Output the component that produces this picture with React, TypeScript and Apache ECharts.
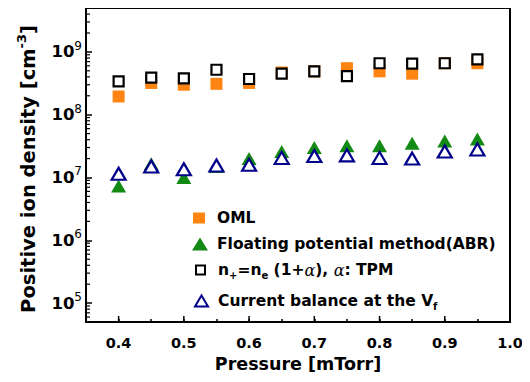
import React, { useEffect, useRef } from 'react';
import * as echarts from 'echarts';

const pressure = [0.4, 0.45, 0.5, 0.55, 0.6, 0.65, 0.7, 0.75, 0.8, 0.85, 0.9, 0.95];
const oml = [1.95e8, 3.2e8, 3.0e8, 3.1e8, 3.2e8, 4.7e8, 4.9e8, 5.5e8, 4.9e8, 4.5e8, 6.6e8, 6.6e8];
const floating = [7.3e6, 1.65e7, 1.0e7, 1.5e7, 2.0e7, 2.6e7, 3.0e7, 3.2e7, 3.2e7, 3.5e7, 3.8e7, 4.1e7];
const tpm = [3.4e8, 3.9e8, 3.8e8, 5.2e8, 3.7e8, 4.5e8, 4.9e8, 4.1e8, 6.6e8, 6.5e8, 6.6e8, 7.6e8];
const currentBalance = [1.15e7, 1.5e7, 1.35e7, 1.55e7, 1.6e7, 2.05e7, 2.2e7, 2.25e7, 2.05e7, 2.0e7, 2.6e7, 2.8e7];

const xMajorTicks = [0.4, 0.5, 0.6, 0.7, 0.8, 0.9, 1.0];
const yMantissas = [2, 3, 4, 5, 6, 7, 8, 9];
const yDecades = [4, 5, 6, 7, 8, 9];

const X_MIN = 0.35;
const X_MAX = 1.0;
const Y_MIN = 5e4;
const Y_MAX = 5e9;

const NAME_OML = 'OML';
const NAME_FLOAT = 'Floating potential method(ABR)';
const NAME_TPM = 'n+=ne (1+α), α: TPM';
const NAME_CB = 'Current balance at the Vf';

const FONT = '"DejaVu Sans", "Liberation Sans", Arial, sans-serif';

export default function App() {
  const ref = useRef<HTMLDivElement>(null);

  useEffect(() => {
    if (!ref.current) return;
    const chart = echarts.init(ref.current, undefined, { renderer: 'svg' });

    const zip = (ys: number[]) => pressure.map((x, i) => [x, ys[i]]);

    const yMinor: number[][] = [];
    yDecades.forEach((d) => {
      yMantissas.forEach((m) => {
        const v = m * Math.pow(10, d);
        if (v > Y_MIN && v < Y_MAX) yMinor.push([X_MIN, v]);
      });
    });

    const richSub = {
      sub: { fontSize: 10, fontWeight: 'bold', fontFamily: FONT, lineHeight: 10, verticalAlign: 'bottom' as const, color: '#000' },
      a: { fontSize: 16, fontWeight: 'normal', fontFamily: '"DejaVu Serif", serif', fontStyle: 'italic', lineHeight: 20, color: '#000' },
    };

    const legendText = (pad: number) => ({
      fontFamily: FONT,
      fontWeight: 'bold' as const,
      fontSize: 15.5,
      color: '#000',
      lineHeight: 20,
      padding: [0, 0, 0, pad],
      rich: richSub,
    });

    const legendBase = {
      orient: 'vertical' as const,
      padding: 0,
      selectedMode: false,
    };

    chart.setOption({
      animation: false,
      backgroundColor: '#fff',
      grid: {
        left: 86,
        right: 20,
        top: 8,
        bottom: 60,
        show: true,
        borderColor: '#000',
        borderWidth: 2,
      },
      xAxis: {
        type: 'value',
        min: X_MIN,
        max: X_MAX,
        interval: 0.05,
        name: 'Pressure [mTorr]',
        nameLocation: 'middle',
        nameGap: 33,
        nameTextStyle: { fontFamily: FONT, fontWeight: 'bold', fontSize: 17.5, color: '#000' },
        axisLine: { lineStyle: { color: '#000', width: 2 } },
        axisTick: { inside: true, length: 3, lineStyle: { color: '#000', width: 1.5 } },
        splitLine: { show: false },
        axisLabel: {
          margin: 13,
          fontFamily: FONT,
          fontWeight: 'bold',
          fontSize: 14.5,
          color: '#000',
          formatter: (v: number) => {
            const t = v * 10;
            return Math.abs(t - Math.round(t)) < 1e-6 ? v.toFixed(1) : '';
          },
        },
      },
      yAxis: {
        type: 'log',
        logBase: 10,
        min: Y_MIN,
        max: Y_MAX,
        axisLine: { lineStyle: { color: '#000', width: 2 } },
        axisTick: { inside: true, length: 6, lineStyle: { color: '#000', width: 1.5 } },
        splitLine: { show: false },
        axisLabel: {
          margin: 4,
          color: '#000',
          formatter: (v: number) => {
            const e = Math.log10(v);
            if (Math.abs(e - Math.round(e)) > 1e-6) return '';
            return `{b|10}{s|${Math.round(e)}}`;
          },
          rich: {
            b: { fontFamily: FONT, fontWeight: 'bold', fontSize: 16.5, lineHeight: 24, color: '#000' },
            s: { fontFamily: FONT, fontWeight: 'normal', fontSize: 12, lineHeight: 12, verticalAlign: 'top', color: '#000' },
          },
        },
      },
      legend: [
        {
          ...legendBase, left: 193, top: 208, itemWidth: 12, itemHeight: 11,
          textStyle: legendText(7), data: [{ name: NAME_OML }],
        },
        {
          ...legendBase, left: 192, top: 234, itemWidth: 16, itemHeight: 13,
          textStyle: legendText(4), data: [{ name: NAME_FLOAT }],
        },
        {
          ...legendBase, left: 195, top: 260, itemWidth: 9, itemHeight: 9,
          textStyle: legendText(8), data: [{ name: NAME_TPM }],
          formatter: () => 'n{sub|+}=n{sub|e} (1+{a|α}), {a|α}: TPM',
        },
        {
          ...legendBase, left: 194, top: 291, itemWidth: 13, itemHeight: 11,
          textStyle: legendText(5), data: [{ name: NAME_CB }],
          formatter: () => 'Current balance at the V{sub|f}',
        },
      ],
      graphic: [
        {
          type: 'text',
          x: 28,
          y: 169,
          rotation: Math.PI / 2,
          style: {
            text: 'Positive ion density [cm{s|-3}]',
            fontFamily: FONT,
            fontWeight: 'bold',
            fontSize: 19.5,
            fill: '#000',
            align: 'center',
            verticalAlign: 'middle',
            lineHeight: 26,
            rich: {
              s: { fontFamily: FONT, fontWeight: 'bold', fontSize: 13, lineHeight: 13, verticalAlign: 'top', fill: '#000' },
            },
          },
        },
      ],
      series: [
        {
          name: NAME_OML,
          type: 'scatter',
          symbol: 'rect',
          symbolSize: 12,
          itemStyle: { color: '#ff8412', opacity: 1 },
          data: zip(oml),
          z: 3,
        },
        {
          name: NAME_FLOAT,
          type: 'scatter',
          symbol: 'triangle',
          symbolSize: [15, 13],
          itemStyle: { color: '#138a13', opacity: 1 },
          data: zip(floating),
          z: 3,
        },
        {
          name: NAME_TPM,
          type: 'scatter',
          symbol: 'rect',
          symbolSize: 10,
          itemStyle: { color: '#fff', borderColor: '#000', borderWidth: 2.2, opacity: 1 },
          data: zip(tpm),
          z: 4,
        },
        {
          name: NAME_CB,
          type: 'scatter',
          symbol: 'triangle',
          symbolSize: [14, 12],
          itemStyle: { color: '#fff', borderColor: '#00008b', borderWidth: 2.2, opacity: 1 },
          data: zip(currentBalance),
          z: 4,
        },
        {
          name: 'yMinorTicks',
          type: 'custom',
          silent: true,
          z: 5,
          data: yMinor,
          renderItem: (params: any, api: any) => {
            const p = api.coord([api.value(0), api.value(1)]);
            return {
              type: 'line',
              shape: { x1: p[0], y1: p[1], x2: p[0] + 4, y2: p[1] },
              style: { stroke: '#000', lineWidth: 1.2 },
            };
          },
        },
        {
          name: 'xMajorTicks',
          type: 'custom',
          silent: true,
          z: 5,
          data: xMajorTicks.map((x) => [x, Y_MIN]),
          renderItem: (params: any, api: any) => {
            const p = api.coord([api.value(0), api.value(1)]);
            return {
              type: 'line',
              shape: { x1: p[0], y1: p[1], x2: p[0], y2: p[1] - 6 },
              style: { stroke: '#000', lineWidth: 1.5 },
            };
          },
        },
      ],
    });

    return () => chart.dispose();
  }, []);

  return <div ref={ref} style={{ width: 530, height: 382, margin: -8 }} />;
}
